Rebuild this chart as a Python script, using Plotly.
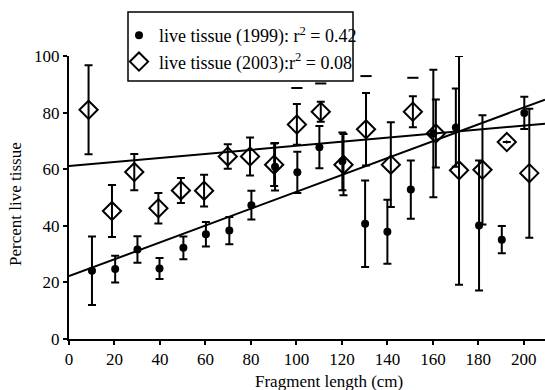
import plotly.graph_objects as go

# 1999 live tissue (filled circles)
x_1999 = [10.1, 20.3, 30.1, 39.8, 50.3, 60.2, 70.5, 80.2, 90.6, 100.4,
          110.1, 120.2, 130.2, 140.0, 150.3, 160.2, 170.1, 180.3, 190.3, 200.2]
y_1999 = [24.1, 24.7, 31.6, 24.9, 32.2, 37.0, 38.3, 47.3, 60.9, 58.9,
          67.8, 62.8, 40.7, 37.9, 52.8, 72.6, 74.7, 40.1, 35.1, 79.9]
err_1999 = [12.1, 4.7, 4.7, 3.7, 4.0, 4.3, 4.8, 5.1, 8.4, 7.3,
            7.5, 10.2, 15.3, 11.3, 10.3, 22.5, 13.8, 23.0, 4.8, 5.7]

# 2003 live tissue (open diamonds)
x_2003 = [8.6, 18.9, 28.7, 39.3, 49.2, 59.4, 69.8, 79.6, 90.2, 100.2,
          110.7, 120.7, 130.6, 141.5, 151.2, 161.3, 171.5, 181.8, 192.5, 202.4]
y_2003 = [81.0, 45.2, 59.0, 46.2, 52.5, 52.4, 64.5, 64.5, 61.6, 75.8,
          80.3, 61.6, 74.1, 61.6, 80.3, 72.6, 59.6, 59.8, 69.6, 58.6]
err_2003 = [15.7, 9.2, 6.4, 5.4, 4.4, 5.6, 4.3, 6.7, 7.5, 7.2,
            3.5, 10.8, 12.8, 15.0, 5.5, 12.0, 40.4, 19.3, 0.0, 22.8]

# detached error-bar caps above some 2003 points
cap_x = [100.2, 110.7, 130.6, 151.2]
cap_y = [88.7, 90.3, 92.9, 92.3]

# regression lines (end points)
trend_x = [0, 209.3]
trend_1999 = [22.2, 84.6]
trend_2003 = [61.1, 76.1]

x_ticks = [0, 20, 40, 60, 80, 100, 120, 140, 160, 180, 200]
y_ticks = [0, 20, 40, 60, 80, 100]

FONT = "Liberation Serif, Times New Roman, serif"
W, H = 545, 390
ML, MR, MT, MB = 69, 0, 56, 51
PW, PH = W - ML - MR, H - MT - MB


def px_x(p):
    return (p - ML) / PW


def px_y(p):
    return (H - MB - p) / PH


fig = go.Figure()

fig.add_trace(go.Scatter(x=trend_x, y=trend_1999, mode="lines",
                         line=dict(color="black", width=2), showlegend=False,
                         hoverinfo="skip"))
fig.add_trace(go.Scatter(x=trend_x, y=trend_2003, mode="lines",
                         line=dict(color="black", width=2), showlegend=False,
                         hoverinfo="skip"))

fig.add_trace(go.Scatter(
    x=x_1999, y=y_1999, mode="markers",
    name="live tissue (1999): r<sup>2</sup> = 0.42",
    marker=dict(symbol="circle", size=8, color="black"),
    error_y=dict(type="data", array=err_1999, visible=True,
                 color="black", thickness=2, width=4),
    cliponaxis=False))

symbols_2003 = ["diamond-open"] * len(x_2003)
symbols_2003[18] = "diamond-open-dot"
fig.add_trace(go.Scatter(
    x=x_2003, y=y_2003, mode="markers",
    name="live tissue (2003):r<sup>2</sup> = 0.08",
    marker=dict(symbol=symbols_2003, size=14, color="black",
                line=dict(color="black", width=2)),
    error_y=dict(type="data", array=err_2003, visible=True,
                 color="black", thickness=2, width=4),
    cliponaxis=False))

fig.add_trace(go.Scatter(
    x=cap_x, y=cap_y, mode="markers", showlegend=False,
    marker=dict(symbol="line-ew", size=8, color="black",
                line=dict(color="black", width=2)),
    cliponaxis=False))

fig.update_layout(
    width=W, height=H,
    margin=dict(l=ML, r=MR, t=MT, b=MB, autoexpand=False),
    paper_bgcolor="white", plot_bgcolor="white",
    font=dict(family=FONT, size=17, color="black"),
    showlegend=True,
    legend=dict(xref="container", yref="container",
                x=119 / W, y=1 - 17 / H, xanchor="left", yanchor="top",
                bgcolor="rgba(0,0,0,0)", borderwidth=0,
                font=dict(family=FONT, size=18), itemwidth=30,
                tracegroupgap=0),
    shapes=[dict(type="rect", xref="paper", yref="paper",
                 x0=px_x(128), x1=px_x(353), y0=px_y(81), y1=px_y(12),
                 line=dict(color="black", width=1.5), fillcolor="white",
                 layer="above")],
    xaxis=dict(range=[0, 209.3], tickvals=x_ticks, ticks="outside",
               ticklen=4, tickwidth=1.5, tickcolor="black",
               showline=True, linecolor="black", linewidth=2,
               showgrid=False, zeroline=False, automargin=False,
               tickfont=dict(family=FONT, size=17)),
    yaxis=dict(range=[0, 100], tickvals=y_ticks, ticks="outside",
               ticklen=4, tickwidth=1.5, tickcolor="black",
               showline=True, linecolor="black", linewidth=2,
               showgrid=False, zeroline=False, automargin=False,
               tickfont=dict(family=FONT, size=17)),
    annotations=[
        dict(text="Fragment length (cm)", xref="paper", yref="paper",
             x=px_x(329), y=px_y(381),
             xanchor="center", yanchor="middle", showarrow=False,
             font=dict(family=FONT, size=17)),
        dict(text="Percent live tissue", xref="paper", yref="paper",
             x=px_x(16), y=px_y(204),
             xanchor="center", yanchor="middle", textangle=-90,
             showarrow=False, font=dict(family=FONT, size=17)),
    ],
)

fig.write_html("out.html",
               config={"displayModeBar": False},
               post_script="document.body.style.margin='0';"
                           "document.body.style.padding='0';")
